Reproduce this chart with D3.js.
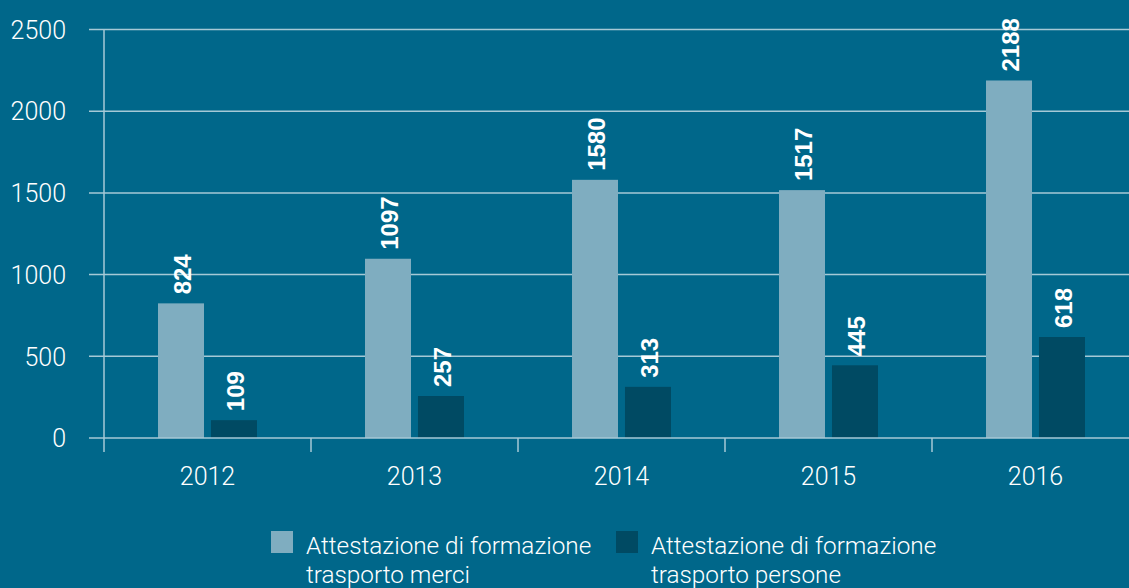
<!DOCTYPE html>
<html><head><meta charset="utf-8">
<script src="https://cdn.jsdelivr.net/npm/d3@7"></script>
<style>
html,body{margin:0;padding:0;background:#00678a;}
svg{display:block;}
</style></head>
<body><svg id="c" width="1129" height="588"></svg>
<script>
const years = ["2012","2013","2014","2015","2016"];
const seriesNames = ["Attestazione di formazione trasporto merci","Attestazione di formazione trasporto persone"];
const merci = [824,1097,1580,1517,2188];
const persone = [109,257,313,445,618];
const yTicks = [0,500,1000,1500,2000,2500];
const legendLines = [["Attestazione di formazione","trasporto merci"],["Attestazione di formazione","trasporto persone"]];

const colors = ["#7fadc0","#004a63"];
const bg = "#00678a";
const grid = "#a6c9d6";
const svg = d3.select("#c");
svg.append("rect").attr("width",1129).attr("height",588).attr("fill",bg);

const x0 = d3.scaleBand().domain(years).range([104,1139]).padding(0);
const x1 = d3.scaleBand().domain([0,1]).range([54,153]).paddingInner(0.132).paddingOuter(0);
const y = d3.scaleLinear().domain([0,2500]).range([438,29.5]);

const lightFont = "Roboto, 'Helvetica Neue', sans-serif";

// gridlines + y labels
const yAxis = d3.axisLeft(y).tickValues(yTicks).tickSize(0).tickPadding(0).tickFormat(d3.format("d"));
const yg = svg.append("g").attr("transform","translate(66,0)").call(yAxis);
yg.select(".domain").remove();
yg.selectAll("text").attr("fill","#ffffff").attr("font-family",lightFont).attr("font-weight",300).attr("font-size",25).attr("dy","0.35em");

svg.append("g").selectAll("line").data(yTicks.filter(d=>d>0)).join("line")
  .attr("x1",89).attr("x2",1129).attr("y1",d=>y(d)).attr("y2",d=>y(d))
  .attr("stroke",grid).attr("stroke-width",1.5);

// bars
const data = years.map((yr,i)=>({yr, vals:[merci[i],persone[i]]}));
const groups = svg.append("g").selectAll("g").data(data).join("g")
  .attr("transform",d=>`translate(${x0(d.yr)},0)`);
groups.selectAll("rect").data(d=>d.vals.map((v,k)=>({v,k}))).join("rect")
  .attr("x",d=>x1(d.k)).attr("width",x1.bandwidth())
  .attr("y",d=>y(d.v)).attr("height",d=>y(0)-y(d.v))
  .attr("fill",d=>colors[d.k]);
groups.selectAll("text").data(d=>d.vals.map((v,k)=>({v,k}))).join("text")
  .attr("transform",d=>`translate(${x1(d.k)+x1.bandwidth()/2+1},${y(d.v)-9}) rotate(-90)`)
  .attr("dy","0.36em")
  .attr("fill","#ffffff").attr("font-family","'Liberation Sans', Arial, sans-serif")
  .attr("font-weight","bold").attr("font-size",24)
  .text(d=>d.v);

// baseline
svg.append("line").attr("x1",89).attr("x2",1129).attr("y1",y(0)).attr("y2",y(0))
  .attr("stroke",grid).attr("stroke-width",1.5);
// x axis: vertical axis line and category ticks
svg.append("line").attr("x1",104).attr("x2",104).attr("y1",y(2500)).attr("y2",452)
  .attr("stroke",grid).attr("stroke-width",1.5);
const bounds = years.map(d=>x0(d)).slice(1).concat([x0(years[4])+x0.bandwidth()]);
svg.append("g").selectAll("line").data(bounds).join("line")
  .attr("x1",d=>d).attr("x2",d=>d).attr("y1",y(0)).attr("y2",452)
  .attr("stroke",grid).attr("stroke-width",1.5);
svg.append("g").selectAll("text").data(years).join("text")
  .attr("x",d=>x0(d)+x0.bandwidth()/2).attr("y",485)
  .attr("text-anchor","middle").attr("fill","#ffffff")
  .attr("font-family",lightFont).attr("font-weight",300).attr("font-size",25)
  .text(d=>d);

// legend
const legX = [271,616];
const lg = svg.append("g").selectAll("g").data(seriesNames).join("g")
  .attr("transform",(d,i)=>`translate(${legX[i]},0)`);
lg.append("rect").attr("x",0).attr("y",531).attr("width",22).attr("height",22).attr("fill",(d,i)=>colors[i]);
lg.append("text").attr("x",35).attr("y",554).attr("fill","#ffffff")
  .attr("font-family",lightFont).attr("font-weight",300).attr("font-size",24.3)
  .selectAll("tspan").data((d,i)=>legendLines[i]).join("tspan")
  .attr("x",35).attr("dy",(d,j)=>j===0?0:29).text(d=>d);
</script></body></html>
